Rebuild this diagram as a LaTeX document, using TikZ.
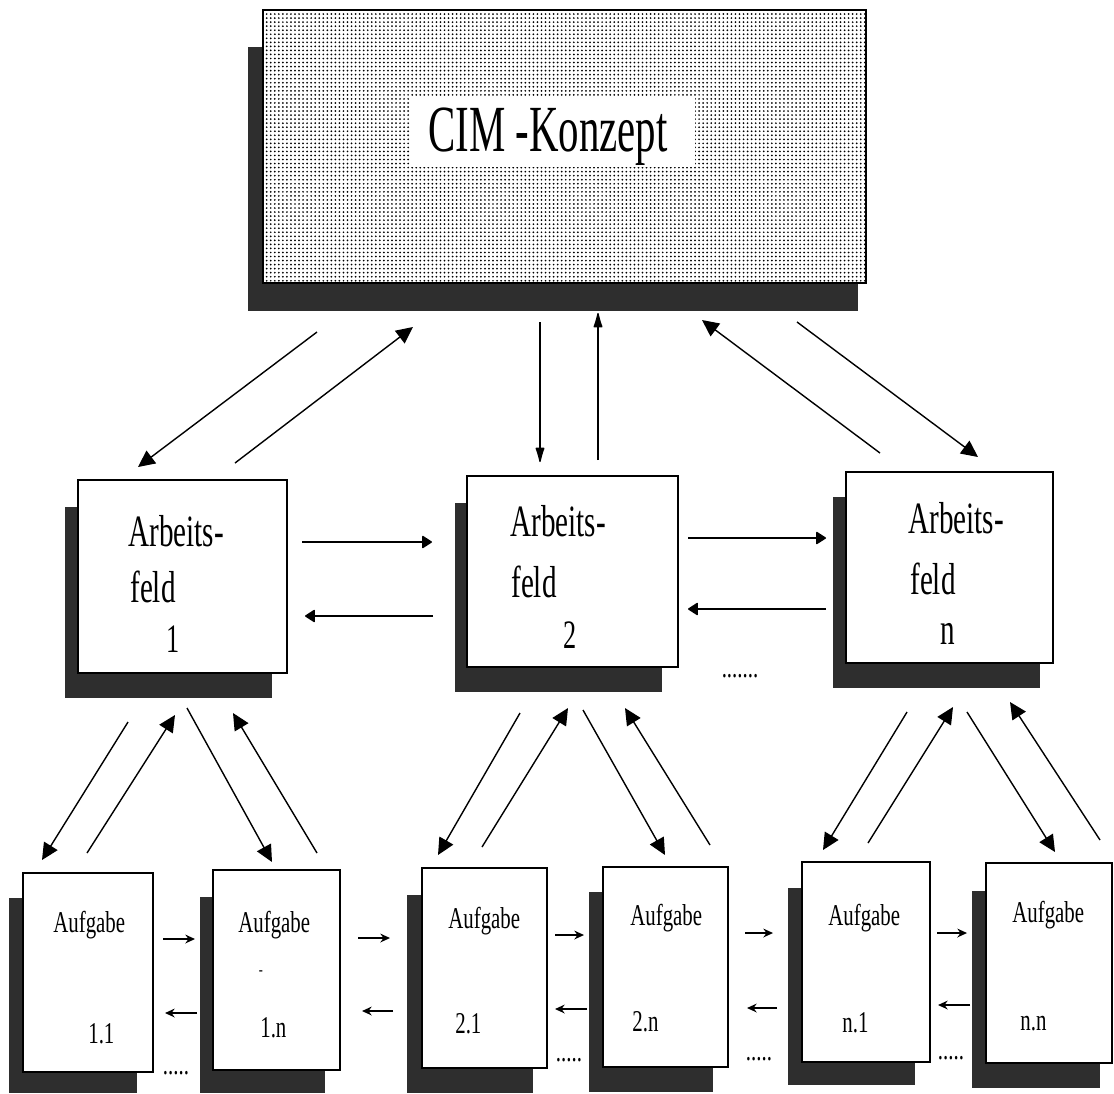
\documentclass[tikz,border=0pt]{standalone}
\usepackage{fontspec}
\setmainfont{Liberation Serif}
\newfontfamily\titelschrift[FakeStretch=0.62]{Liberation Serif}
\newfontfamily\feldschrift[FakeStretch=0.65]{Liberation Serif}
\newfontfamily\aufgabenschrift[FakeStretch=0.69]{Liberation Serif}
\usetikzlibrary{arrows.meta}
\usetikzlibrary{fit}
\usetikzlibrary{patterns.meta}
\tikzset{
    schatten/.style={fill=black!82, inner sep=0pt, outer sep=0pt},
    blatt/.style={draw, fill=white, line width=0.8pt, inner sep=0pt, outer sep=0pt},
    raster/.style={blatt, postaction={pattern={Dots[distance=2.3pt, radius=0.55pt]}}},
    titeltext/.style={font=\titelschrift\fontsize{37.5}{40}\selectfont, inner sep=0pt},
    feldtext/.style={font=\feldschrift\fontsize{25.5}{30}\selectfont, inner sep=0pt, anchor=base west},
    nummer/.style={font=\feldschrift\fontsize{23}{27}\selectfont, inner sep=0pt, anchor=base west},
    aufgtext/.style={font=\aufgabenschrift\fontsize{17.2}{20}\selectfont, inner sep=0pt, anchor=base west},
    spitz/.style={-{Triangle[length=9.5pt,width=9pt]}, line width=0.8pt},
    lang/.style={-{Latex[round,length=10pt,width=5.5pt]}, line width=0.8pt},
    rund/.style={-{Triangle[round,length=6pt,width=7.5pt]}, line width=0.8pt},
    klein/.style={-{Stealth[length=5.5pt,width=5pt]}, line width=0.8pt}
}
\begin{document}
\begin{tikzpicture}[x=0.02cm, y=-0.02cm]
  \useasboundingbox (0,0) rectangle (1114,1093);

  % CIM-Konzept
  \node[schatten, fit={(248,47) (858,311)}] (cims) {};
  \node[raster, fit={(263,10) (866,283)}] (cim) {};
  \node[fill=white, inner sep=0pt, fit={(410,97) (695,167)}] (cimfeld) {};
  \node[titeltext, anchor=base] (cimtext) at (548,151) {CIM -Konzept};

  % Arbeitsfelder
  \node[schatten, fit={(65,507) (272,698)}] (af1s) {};
  \node[blatt, fit={(78,480) (287,673)}] (af1) {};
  \node[feldtext] (af1a) at (128,546) {Arbeits-};
  \node[feldtext] (af1b) at (130,602) {feld};
  \node[nummer] (af1c) at (166,652) {1};

  \node[schatten, fit={(455,503) (662,692)}] (af2s) {};
  \node[blatt, fit={(467,476) (678,667)}] (af2) {};
  \node[feldtext] (af2a) at (510,536) {Arbeits-};
  \node[feldtext] (af2b) at (511,597) {feld};
  \node[nummer] (af2c) at (563,648) {2};

  \node[schatten, fit={(833,497) (1040,688)}] (af3s) {};
  \node[blatt, fit={(846,472) (1053,663)}] (af3) {};
  \node[feldtext] (af3a) at (908,533) {Arbeits-};
  \node[feldtext] (af3b) at (910,594) {feld};
  \node[feldtext] (af3c) at (940,644) {n};

  \node[aufgtext, anchor=base] (afpunkte) at (740,677) {.......};

  % Aufgaben
  \node[schatten, fit={(9,898) (137,1093)}] (a11s) {};
  \node[blatt, fit={(23,873) (153,1072)}] (a11) {};
  \node[aufgtext] (a11a) at (53,932) {Aufgabe};
  \node[aufgtext] (a11b) at (88,1043) {1.1};

  \node[schatten, fit={(200,897) (325,1093)}] (a1ns) {};
  \node[blatt, fit={(213,870) (340,1070)}] (a1n) {};
  \node[aufgtext] (a1na) at (238,932) {Aufgabe};
  \node[aufgtext, anchor=center, font=\aufgabenschrift\fontsize{10}{12}\selectfont] (a1nm) at (261,973) {-};
  \node[aufgtext] (a1nb) at (260,1037) {1.n};

  \node[schatten, fit={(407,895) (533,1093)}] (a21s) {};
  \node[blatt, fit={(422,868) (547,1068)}] (a21) {};
  \node[aufgtext] (a21a) at (448,928) {Aufgabe};
  \node[aufgtext] (a21b) at (455,1033) {2.1};

  \node[schatten, fit={(589,892) (713,1092)}] (a2ns) {};
  \node[blatt, fit={(603,867) (728,1067)}] (a2n) {};
  \node[aufgtext] (a2na) at (630,925) {Aufgabe};
  \node[aufgtext] (a2nb) at (632,1031) {2.n};

  \node[schatten, fit={(788,888) (915,1085)}] (an1s) {};
  \node[blatt, fit={(802,862) (930,1062)}] (an1) {};
  \node[aufgtext] (an1a) at (828,925) {Aufgabe};
  \node[aufgtext] (an1b) at (842,1032) {n.1};

  \node[schatten, fit={(972,891) (1100,1088)}] (anns) {};
  \node[blatt, fit={(986,863) (1112,1063)}] (ann) {};
  \node[aufgtext] (anna) at (1012,922) {Aufgabe};
  \node[aufgtext] (annb) at (1020,1030) {n.n};

  \node[aufgtext, anchor=base] (p1) at (176,1074) {.....};
  \node[aufgtext, anchor=base] (p2) at (569,1061) {.....};
  \node[aufgtext, anchor=base] (p3) at (759,1060) {.....};
  \node[aufgtext, anchor=base] (p4) at (951,1059) {.....};

  % Pfeile Konzept <-> Arbeitsfelder
  \coordinate (k1a) at (317,332); \coordinate (k1b) at (138,467);
  \coordinate (k2a) at (235,463); \coordinate (k2b) at (413,327);
  \coordinate (k3a) at (540,322); \coordinate (k3b) at (540,462);
  \coordinate (k4a) at (598,460); \coordinate (k4b) at (598,313);
  \coordinate (k5a) at (880,453); \coordinate (k5b) at (702,320);
  \coordinate (k6a) at (797,322); \coordinate (k6b) at (978,457);
  \draw[spitz] (k1a) -- (k1b);
  \draw[spitz] (k2a) -- (k2b);
  \draw[lang] (k3a) -- (k3b);
  \draw[lang] (k4a) -- (k4b);
  \draw[spitz] (k5a) -- (k5b);
  \draw[spitz] (k6a) -- (k6b);

  % Pfeile zwischen Arbeitsfeldern
  \coordinate (h1a) at (302,542); \coordinate (h1b) at (432,542);
  \coordinate (h2a) at (433,616); \coordinate (h2b) at (305,616);
  \coordinate (h3a) at (688,538); \coordinate (h3b) at (826,538);
  \coordinate (h4a) at (826,609); \coordinate (h4b) at (688,609);
  \draw[rund] (h1a) -- (h1b);
  \draw[rund] (h2a) -- (h2b);
  \draw[rund] (h3a) -- (h3b);
  \draw[rund] (h4a) -- (h4b);

  % Pfeile Arbeitsfelder <-> Aufgaben
  \coordinate (g1a) at (128,722);  \coordinate (g1b) at (42,860);
  \coordinate (g2a) at (87,853);   \coordinate (g2b) at (175,715);
  \coordinate (g3a) at (187,708);  \coordinate (g3b) at (272,862);
  \coordinate (g4a) at (317,853);  \coordinate (g4b) at (233,713);
  \coordinate (g5a) at (520,713);  \coordinate (g5b) at (438,855);
  \coordinate (g6a) at (482,847);  \coordinate (g6b) at (568,708);
  \coordinate (g7a) at (583,710);  \coordinate (g7b) at (665,855);
  \coordinate (g8a) at (710,845);  \coordinate (g8b) at (625,708);
  \coordinate (g9a) at (907,712);  \coordinate (g9b) at (823,850);
  \coordinate (g10a) at (868,843); \coordinate (g10b) at (953,707);
  \coordinate (g11a) at (967,712); \coordinate (g11b) at (1055,852);
  \coordinate (g12a) at (1100,840); \coordinate (g12b) at (1010,702);
  \draw[spitz] (g1a) -- (g1b);
  \draw[spitz] (g2a) -- (g2b);
  \draw[spitz] (g3a) -- (g3b);
  \draw[spitz] (g4a) -- (g4b);
  \draw[spitz] (g5a) -- (g5b);
  \draw[spitz] (g6a) -- (g6b);
  \draw[spitz] (g7a) -- (g7b);
  \draw[spitz] (g8a) -- (g8b);
  \draw[spitz] (g9a) -- (g9b);
  \draw[spitz] (g10a) -- (g10b);
  \draw[spitz] (g11a) -- (g11b);
  \draw[spitz] (g12a) -- (g12b);

  % Pfeile zwischen Aufgaben
  \coordinate (r1a) at (163,939); \coordinate (r1b) at (195,939);
  \coordinate (l1a) at (197,1013); \coordinate (l1b) at (165,1013);
  \coordinate (r2a) at (358,938); \coordinate (r2b) at (390,938);
  \coordinate (l2a) at (393,1011); \coordinate (l2b) at (362,1011);
  \coordinate (r3a) at (555,935); \coordinate (r3b) at (584,935);
  \coordinate (l3a) at (587,1009); \coordinate (l3b) at (555,1009);
  \coordinate (r4a) at (745,933); \coordinate (r4b) at (773,933);
  \coordinate (l4a) at (777,1008); \coordinate (l4b) at (747,1008);
  \coordinate (r5a) at (937,933); \coordinate (r5b) at (967,933);
  \coordinate (l5a) at (970,1005); \coordinate (l5b) at (938,1005);
  \draw[klein] (r1a) -- (r1b);
  \draw[klein] (l1a) -- (l1b);
  \draw[klein] (r2a) -- (r2b);
  \draw[klein] (l2a) -- (l2b);
  \draw[klein] (r3a) -- (r3b);
  \draw[klein] (l3a) -- (l3b);
  \draw[klein] (r4a) -- (r4b);
  \draw[klein] (l4a) -- (l4b);
  \draw[klein] (r5a) -- (r5b);
  \draw[klein] (l5a) -- (l5b);
\end{tikzpicture}
\end{document}
